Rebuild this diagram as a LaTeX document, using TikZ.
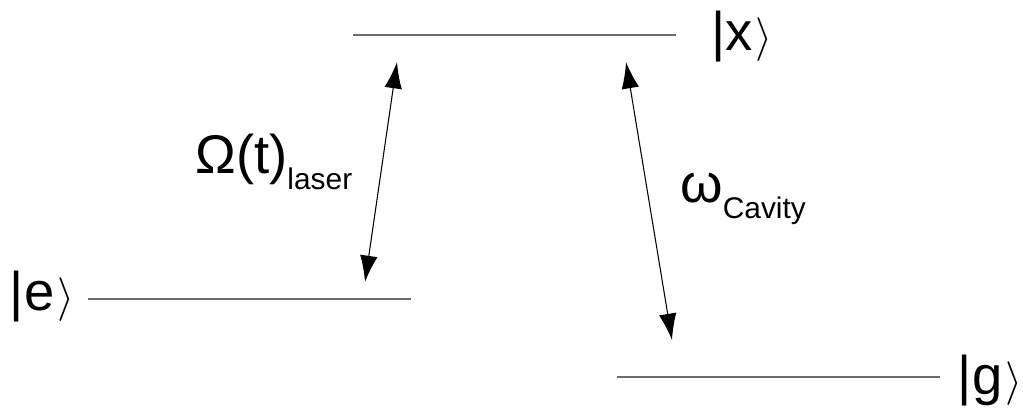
\documentclass[tikz,border=0pt]{standalone}
\usepackage{fontspec}
\setmainfont{Liberation Sans}
\usepackage{tikz}
\usetikzlibrary{arrows.meta}
\tikzset{
level/.style={draw=gray!85!black, line width=1.1pt},
transition/.style={draw=black, line width=0.6pt, {Latex[length=15pt,width=10pt]}-{Latex[length=15pt,width=10pt]}},
ket/.style={inner sep=0pt, font=\fontsize{31}{34}\selectfont},
}
\newcommand{\sublabel}[1]{\raisebox{-0.3em}{\fontsize{17}{19}\selectfont #1}}
\newcommand{\ketclose}{\kern1.5pt$\bigr\rangle$}

\begin{document}
\begin{tikzpicture}[x=0.02cm, y=-0.02cm,
  rate/.style={inner sep=0pt, anchor=base west, font=\fontsize{31}{34}\selectfont},
]
%% work in pixel units, y pointing down
\useasboundingbox (0,0) rectangle (1023,410);

%% ---- levels ----
\coordinate (xl) at (353,35);  \coordinate (xr) at (676,35);
\coordinate (el) at (88,299);  \coordinate (er) at (411,299);
\coordinate (gl) at (617,377); \coordinate (gr) at (940,377);
\draw[level] (xl) -- (xr);
\draw[level] (el) -- (er);
\draw[level] (gl) -- (gr);

\node[ket] (xket) at (742,37) {|x\ketclose};
\node[ket] (eket) at (42,297) {|e\ketclose};
\node[ket] (gket) at (990,381) {|g\ketclose};

%% ---- transitions ----
\coordinate (lasertop) at (397,62);
\coordinate (laserbot) at (365,282);
\coordinate (cavtop)   at (626,62);
\coordinate (cavbot)   at (672,340);
\draw[transition] (lasertop) -- (laserbot);
\draw[transition] (cavtop) -- (cavbot);

\node[rate] (laser) at (195,173) {Ω(t)\sublabel{laser}};
\node[rate] (cavity) at (680,202) {ω\sublabel{Cavity}};
\end{tikzpicture}
\end{document}
